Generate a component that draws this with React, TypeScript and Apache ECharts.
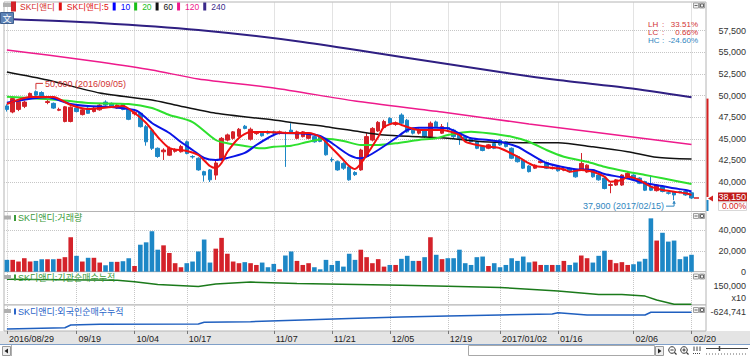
import React, { useEffect, useRef } from 'react';
import * as echarts from 'echarts';

const FONT = "'Liberation Sans', Arial, 'Noto Sans CJK KR', sans-serif";

const dates: string[] = [
  '2016/08/29', '2016/08/30', '2016/08/31',
  '2016/09/01', '2016/09/02', '2016/09/05', '2016/09/06', '2016/09/07', '2016/09/08', '2016/09/09', '2016/09/12', '2016/09/13',
  '2016/09/19', '2016/09/20', '2016/09/21', '2016/09/22', '2016/09/23', '2016/09/26', '2016/09/27', '2016/09/28', '2016/09/29', '2016/09/30',
  '2016/10/04', '2016/10/05', '2016/10/06', '2016/10/07', '2016/10/10', '2016/10/11', '2016/10/12', '2016/10/13', '2016/10/14',
  '2016/10/17', '2016/10/18', '2016/10/19', '2016/10/20', '2016/10/21', '2016/10/24', '2016/10/25', '2016/10/26', '2016/10/27', '2016/10/28', '2016/10/31',
  '2016/11/01', '2016/11/02', '2016/11/03', '2016/11/04', '2016/11/07', '2016/11/08', '2016/11/09', '2016/11/10', '2016/11/11',
  '2016/11/14', '2016/11/15', '2016/11/16', '2016/11/17', '2016/11/18', '2016/11/21', '2016/11/22', '2016/11/23', '2016/11/24', '2016/11/25',
  '2016/11/28', '2016/11/29', '2016/11/30', '2016/12/01', '2016/12/02', '2016/12/05', '2016/12/06', '2016/12/07', '2016/12/08', '2016/12/09',
  '2016/12/12', '2016/12/13', '2016/12/14', '2016/12/15', '2016/12/16', '2016/12/19', '2016/12/20', '2016/12/21', '2016/12/22', '2016/12/23',
  '2016/12/26', '2016/12/27', '2016/12/28', '2016/12/29',
  '2017/01/02', '2017/01/03', '2017/01/04', '2017/01/05', '2017/01/06', '2017/01/09', '2017/01/10', '2017/01/11', '2017/01/12', '2017/01/13',
  '2017/01/16', '2017/01/17', '2017/01/18', '2017/01/19', '2017/01/20', '2017/01/23', '2017/01/24', '2017/01/25', '2017/01/26', '2017/01/31',
  '2017/02/01', '2017/02/02', '2017/02/03', '2017/02/06', '2017/02/07', '2017/02/08', '2017/02/09', '2017/02/10',
  '2017/02/13', '2017/02/14', '2017/02/15', '2017/02/16', '2017/02/17', '2017/02/20',
];

const opens = [
  48800, 48100, 48400, 48750, 49700, 50450, 50350, 49200, 49100, 48300,
  47000, 47000, 48550, 47800, 48550, 48150, 48350, 49250, 49100, 48550,
  49000, 48350, 47900, 47950, 46400, 46000, 43900, 43500, 43100, 43550,
  43500, 44650, 42950, 42750, 41200, 41400, 40800, 42550, 44850, 45050,
  45300, 46450, 44950, 45600, 45650, 45800, 45800, 45650, 45700, 46000,
  45050, 45250, 45050, 45250, 45200, 44850, 42600, 42350, 42150, 41750,
  41100, 41400, 42950, 44850, 45900, 46300, 47350, 46650, 47750, 47150,
  46000, 45650, 46000, 45250, 46950, 45650, 46300, 46000, 45450, 45250,
  45050, 44650, 44100, 43900, 44450, 44850, 44650, 43900, 42950, 42550,
  41850, 41600, 42250, 42250, 41550, 41750, 41350, 41600, 41400, 41400,
  41150, 41400, 40800, 40450, 39600, 39650, 39650, 40600, 40800, 40450,
  40050, 39450, 39000, 39450, 38750, 38850, 38900, 38900, 38750,
];
const closes = [
  48400, 49650, 49300, 49250, 50250, 50050, 49800, 49300, 48550, 48400,
  48700, 48650, 48150, 48350, 47950, 48550, 48900, 48900, 48700, 48900,
  48400, 47250, 48050, 46400, 44650, 43900, 42950, 43700, 43900, 43700,
  44100, 43300, 42900, 41400, 40800, 40250, 42200, 45050, 45450, 45800,
  46100, 46200, 46100, 45650, 45350, 45650, 45650, 45800, 45650, 45650,
  45800, 45800, 45650, 44650, 44700, 43150, 42550, 41400, 41600, 40250,
  40850, 43700, 45250, 46200, 46900, 47000, 46800, 46800, 46800, 45800,
  45650, 46000, 45250, 46800, 46400, 46400, 46200, 45250, 45050, 44850,
  44650, 43900, 43650, 44300, 43900, 44300, 44100, 42750, 42350, 41600,
  41200, 41950, 42400, 41600, 41650, 41300, 41450, 41200, 40600, 42150,
  41950, 40600, 40250, 39250, 39700, 40250, 40800, 41000, 40250, 39850,
  39050, 39050, 39650, 38900, 38700, 38500, 38850, 38500, 38150,
];
const lows = [
  48150, 47950, 48200, 48550, 49600, 49900, 49650, 49000, 48450, 48200,
  46900, 46900, 48050, 47700, 47900, 48050, 48250, 48800, 48600, 48450,
  48300, 47150, 47700, 46300, 44200, 43700, 42800, 42550, 43000, 43400,
  43400, 43200, 42700, 41300, 40050, 40000, 40250, 42450, 44700, 44900,
  45200, 46100, 44800, 45450, 45250, 45500, 45300, 45500, 41750, 45550,
  44950, 45150, 44950, 44550, 44600, 43050, 42300, 41300, 41400, 40150,
  40700, 41300, 42850, 44700, 45800, 46200, 46700, 46500, 46700, 45700,
  45500, 45500, 45100, 45100, 46300, 45550, 46000, 45100, 44300, 44750,
  44550, 43800, 43550, 43800, 43800, 44200, 44000, 42650, 42250, 41500,
  41100, 41500, 42150, 41500, 41450, 41200, 41250, 41100, 40500, 41300,
  41050, 40500, 40150, 39150, 38700, 39550, 39550, 40500, 40150, 39750,
  38950, 38950, 38900, 38800, 38550, 37900, 38700, 38400, 38050,
];
const highs = [
  49000, 49850, 49500, 49400, 50350, 50600, 50500, 49500, 49200, 48600,
  48800, 48750, 48800, 48450, 48650, 48700, 49000, 49450, 49200, 49000,
  49100, 48450, 48200, 48000, 46600, 46100, 44000, 43900, 44100, 43900,
  44300, 44800, 43100, 42850, 41300, 41500, 42550, 45200, 45600, 45900,
  46250, 46600, 46300, 45900, 45800, 45950, 45950, 45950, 45850, 46800,
  45950, 45900, 45750, 45350, 45350, 44950, 42850, 42500, 42300, 41900,
  41250, 43850, 45650, 46350, 47050, 47200, 47500, 47000, 47950, 47300,
  46150, 46200, 46150, 47000, 47100, 46700, 46900, 46150, 45550, 45350,
  45200, 44750, 44200, 44400, 44550, 44950, 44750, 44000, 43050, 42650,
  41950, 42050, 42550, 42350, 41800, 41850, 41600, 41700, 41500, 43350,
  42050, 41500, 40900, 40550, 39900, 40350, 40900, 41150, 40900, 40550,
  40150, 40800, 39750, 39550, 38900, 38950, 39000, 39000, 38850,
];
const volumes = [
  11400, 11400, 9800, 13000, 9800, 10400, 12000, 12000, 12000, 12400,
  14000, 33200, 15300, 9800, 13400, 13400, 8800, 6200, 9500, 9500,
  10100, 13000, 5500, 26000, 28300, 39000, 21200, 25400, 18000, 8200,
  4300, 8200, 9800, 19500, 31000, 8800, 22200, 32600, 17300, 9800,
  8200, 9200, 8200, 6500, 8800, 4300, 7500, 2300, 15600, 19500,
  10400, 6500, 8200, 4300, 2300, 11400, 6500, 10400, 4900, 17300,
  11400, 21200, 14000, 8200, 12100, 4900, 6500, 6500, 12400, 15300,
  10400, 10400, 14000, 33200, 16300, 12100, 13000, 13000, 21200, 8200,
  6500, 14000, 14600, 5500, 8200, 4300, 6500, 13000, 10400, 14600,
  9000, 9800, 6500, 6500, 6500, 6500, 10400, 6500, 8800, 15600,
  13000, 8800, 15300, 20200, 11400, 8200, 9200, 6500, 7200, 9800,
  12400, 51400, 30000, 37500, 29000, 30000, 12100, 14600, 16300,
];

// moving averages: [day index, value]
const ma5 = [
  [0, 49030], [4, 49830], [8, 49830], [11, 48910], [14, 48450], [18, 48680], [20, 48790], [22, 47980], [24, 46830],
  [26, 45210], [28, 43930], [31, 43590], [33, 43120], [35, 41850], [36, 41620], [37, 42200], [38, 43470], [40, 45090],
  [42, 45790], [45, 45790], [49, 45670], [52, 45670], [54, 45210], [56, 43930], [58, 42550], [59, 41850], [60, 41500],
  [62, 43120], [64, 45210], [65, 46360], [67, 46830], [68, 46600], [71, 46020], [73, 46020], [75, 46020], [78, 45440],
  [79, 44660], [81, 44280], [83, 44080], [85, 43900], [88, 42930], [90, 42160], [91, 41850], [93, 41700], [96, 41470],
  [97, 41190], [99, 41390], [101, 41190], [103, 40610], [104, 40040], [106, 40230], [107, 40610], [109, 40230],
  [111, 39460], [113, 39070], [115, 38880], [117, 38690], [118, 38500],
];
const ma10 = [
  [0, 49180], [7, 49800], [11, 49030], [14, 48790], [18, 48680], [22, 48330], [23, 47980], [25, 46830], [28, 45670],
  [30, 44630], [32, 43700], [34, 42780], [36, 42550], [38, 42780], [41, 43360], [43, 44280], [45, 45090], [47, 45670],
  [51, 45610], [54, 45320], [56, 44510], [59, 43120], [61, 42740], [62, 42930], [64, 43700], [67, 45060], [69, 46020],
  [71, 46280], [74, 46280], [76, 46210], [78, 45640], [80, 45060], [83, 44860], [85, 44660], [88, 44080], [90, 43320],
  [93, 42200], [96, 41700], [98, 41470], [101, 41390], [103, 40930], [106, 40540], [108, 40230], [110, 39850],
  [113, 39540], [115, 39270], [117, 39070], [118, 38900],
];
const ma20 = [
  [0, 49870], [9, 49490], [14, 49140], [21, 49030], [25, 48560], [28, 47750], [32, 46940], [36, 44860], [38, 44480],
  [41, 44170], [44, 43900], [46, 44080], [49, 44200], [52, 44660], [55, 45000], [58, 44750], [61, 44280], [64, 44280],
  [67, 44480], [71, 44860], [74, 45060], [76, 45440], [80, 45820], [83, 45640], [87, 45240], [90, 44660], [93, 43700],
  [96, 42930], [100, 42350], [103, 41770], [107, 41190], [110, 40810], [113, 40430], [116, 40040], [118, 39780],
];
const ma60 = [
  [0, 52730], [7, 51800], [16, 50300], [25, 49490], [29, 48910], [36, 47950], [46, 47170], [50, 46790], [55, 46400],
  [60, 45900], [65, 45440], [71, 45240], [76, 45060], [82, 44660], [89, 44550], [95, 44550], [101, 44080], [107, 43510],
  [112, 42860], [118, 42650],
];
const ma120 = [
  [0, 55270], [7, 54690], [16, 53880], [25, 52960], [33, 51920], [46, 50880], [60, 49370], [75, 48100], [90, 46710],
  [101, 45790], [118, 44330],
];
const ma240 = [
  [0, 58860], [16, 58400], [33, 57590], [51, 56200], [68, 54460], [85, 52730], [95, 51800], [107, 50880], [118, 49800],
];

// 기관순매수누적 (display units x10) and 외국인순매수누적
const instCum = [
  [0, 172900], [19, 169000], [22, 164000], [26, 153500], [33, 147000], [36, 156000], [42, 162500], [50, 157400],
  [68, 151600], [76, 147700], [85, 143100], [95, 130300], [102, 117500], [106, 117500], [110, 112100], [112, 98200],
  [115, 82700], [118, 82700],
];
const foreignCum = [
  [0, -792000], [10, -779000], [11, -752000], [16, -745000], [33, -742000], [34, -725000], [42, -719000],
  [51, -702000], [59, -687000], [68, -672000], [76, -662000], [85, -652000], [94, -642000], [95, -629000],
  [100, -652000], [110, -652000], [111, -624741], [118, -624741],
];

const tickDates = ['2016/08/29', '2016/09/19', '2016/10/04', '2016/10/17', '2016/11/07', '2016/11/21', '2016/12/05',
  '2016/12/19', '2017/01/02', '2017/01/16', '2017/02/06', '2017/02/20'];
const tickLabels = ['2016/08/29', '09/19', '10/04', '10/17', '11/07', '11/21', '12/05', '12/19', '2017/01/02', '01/16',
  '02/06', '02/20'];
const priceTicks = [40000, 42500, 45000, 47500, 50000, 52500, 55000, 57500];
const volumeTicks = [0, 20000, 40000];
const volumeGrid = [20000, 40000];
const instTicks = [150000];
const foreignTicks = [-624741];

const highDate = '2016/09/05';
const highValue = 50600;
const lowDate = '2017/02/15';
const lowValue = 37900;
const rangeTop = 49650;
const dayChange = '0.00%';

const UP = '#d4222a';
const DOWN = '#1d87c6';
const GRIDLINE = '#c6c6c6';

const fmt = (v: number) => Math.round(v).toLocaleString('en-US');
const pct = (v: number) => (v * 100).toFixed(2) + '%';

const categories = [...dates, '', ' '];
const tickSet = new Set(tickDates);
const labelOf: Record<string, string> = {};
tickDates.forEach((d, i) => { labelOf[d] = tickLabels[i]; });
const isTick = (i: number) => tickSet.has(categories[i]);

function gridLines(extra: any[] = []) {
  return {
    silent: true,
    symbol: ['none', 'none'],
    z: 1,
    animation: false,
    label: { show: false },
    emphasis: { disabled: true },
    lineStyle: { color: GRIDLINE, type: 'dotted', width: 1 },
    data: [...tickDates.map((d) => ({ xAxis: d })), ...extra],
  };
}

function maLine(name: string, data: number[][], color: string, width: number) {
  return {
    name, type: 'line', xAxisIndex: 0, yAxisIndex: 0, data, color,
    showSymbol: false, symbol: 'none', smooth: 0.25, silent: true, z: 3,
    lineStyle: { color, width },
  };
}

function buildOption() {
  const gridBox = { left: 4, right: 44, show: true, borderColor: '#b4b4b4', borderWidth: 1, backgroundColor: '#ffffff' };
  const yLabel = (vals: number[]) => ({
    customValues: vals, formatter: (v: number) => fmt(v), align: 'right', margin: 40,
    fontSize: 9, color: '#333333', fontFamily: FONT,
  });
  const yBase = { type: 'value', position: 'right', axisLine: { show: false }, axisTick: { show: false }, splitLine: { show: false } };
  const xAxes = [0, 1, 2, 3].map((k) => ({
    type: 'category', gridIndex: k, data: categories, boundaryGap: true,
    axisLine: { show: false }, splitLine: { show: false },
    axisTick: k === 3
      ? { show: true, interval: isTick, alignWithLabel: true, length: 3, lineStyle: { color: '#777777' } }
      : { show: false },
    axisLabel: k === 3
      ? {
        show: true, interval: isTick, formatter: (v: string) => labelOf[v] || '', align: 'left',
        padding: [0, 0, 0, 2], margin: 3, fontSize: 9, color: '#222222', fontFamily: FONT,
      }
      : { show: false },
  }));
  const legendItems = [
    ['SK디앤디', '#d32a2a'], ['SK디앤디:5', '#e01010'], ['10', '#0000ff'], ['20', '#19c019'],
    ['60', '#111111'], ['120', '#ee1a8c'], ['240', '#3a2a8a'],
  ];
  return {
    animation: false,
    backgroundColor: '#ffffff',
    legend: {
      left: 11, top: 1.5, padding: 0, itemGap: 4, itemWidth: 3, itemHeight: 8, icon: 'rect',
      selectedMode: false, textStyle: { fontSize: 8.5, fontFamily: FONT },
      data: legendItems.map(([n, c]) => ({ name: n, textStyle: { color: c }, itemStyle: { color: c } })),
    },
    grid: [
      { ...gridBox, top: 2, height: 209.5 },
      { ...gridBox, top: 211.5, height: 60.2 },
      { ...gridBox, top: 271.7, height: 33.3 },
      { ...gridBox, top: 305, height: 26 },
    ],
    xAxis: xAxes,
    yAxis: [
      { ...yBase, gridIndex: 0, min: 36587, max: 60826, axisLabel: yLabel(priceTicks) },
      { ...yBase, gridIndex: 1, min: 0, max: 58000, axisLabel: yLabel(volumeTicks) },
      { ...yBase, gridIndex: 2, min: 80000, max: 200000, axisLabel: yLabel(instTicks) },
      { ...yBase, gridIndex: 3, min: -811741, max: -551741, axisLabel: yLabel(foreignTicks) },
    ],
    series: [
      {
        name: 'SK디앤디', type: 'candlestick', xAxisIndex: 0, yAxisIndex: 0, barWidth: 4, silent: true,
        data: dates.map((_, i) => [opens[i], closes[i], lows[i], highs[i]]),
        itemStyle: { color: UP, color0: DOWN, borderColor: UP, borderColor0: DOWN, borderWidth: 1 },
        markLine: gridLines(priceTicks.map((v) => ({ yAxis: v }))),
      },
      maLine('240', ma240, '#2f1f82', 2),
      maLine('120', ma120, '#ee1a8c', 1.5),
      maLine('60', ma60, '#111111', 1.5),
      maLine('20', ma20, '#2ee02e', 2),
      maLine('10', ma10, '#0a14e6', 2),
      maLine('SK디앤디:5', ma5, '#f01010', 2),
      {
        name: '거래량', type: 'bar', xAxisIndex: 1, yAxisIndex: 1, barWidth: 4.6, silent: true,
        data: volumes.map((v, i) => ({ value: v, itemStyle: { color: closes[i] >= opens[i] ? UP : DOWN } })),
        markLine: gridLines(volumeGrid.map((v) => ({ yAxis: v }))),
      },
      {
        name: '기관순매수누적', type: 'line', xAxisIndex: 2, yAxisIndex: 2, data: instCum, showSymbol: false,
        symbol: 'none', silent: true, lineStyle: { color: '#1b7a1b', width: 1.5 }, markLine: gridLines(),
      },
      {
        name: '외국인순매수누적', type: 'line', xAxisIndex: 3, yAxisIndex: 3, data: foreignCum, showSymbol: false,
        symbol: 'none', silent: true, lineStyle: { color: '#1f5fbf', width: 1.5 }, markLine: gridLines(),
      },
    ],
  };
}

function txt(x: number, y: number, text: string, fill: string, size = 9, align = 'left', extra: any = {}) {
  return {
    type: 'text', x, y, silent: true, z: 20,
    style: { text, fill, font: `${size}px ${FONT}`, align, verticalAlign: 'middle', ...extra },
  };
}

function miniIcons(y: number) {
  return [
    { type: 'rect', silent: true, z: 20, shape: { x: 693.5, y, width: 5, height: 5 }, style: { fill: '#f2f2f2', stroke: '#a0a0a0', lineWidth: 1 } },
    { type: 'line', silent: true, z: 21, shape: { x1: 694.5, y1: y + 2.5, x2: 697.5, y2: y + 2.5 }, style: { stroke: '#666', lineWidth: 1 } },
    { type: 'rect', silent: true, z: 20, shape: { x: 699.5, y, width: 5, height: 5 }, style: { fill: '#f2f2f2', stroke: '#a0a0a0', lineWidth: 1 } },
    { type: 'rect', silent: true, z: 21, shape: { x: 700.5, y: y + 1, width: 3, height: 3 }, style: { fill: 'none', stroke: '#666', lineWidth: 1 } },
  ];
}

function panelTitle(y: number, text: string, color: string) {
  return [
    { type: 'rect', silent: true, z: 20, shape: { x: 4, y: y - 2.5, width: 7, height: 4 }, style: { fill: '#b0b0b0' } },
    { type: 'rect', silent: true, z: 20, shape: { x: 14, y: y - 3, width: 2, height: 6 }, style: { fill: color } },
    txt(18, y, text, color, 9),
  ];
}

function buildGraphics(chart: any) {
  const px = (i: number, v: number) => chart.convertToPixel({ xAxisIndex: 0, yAxisIndex: 0 }, [i, v]) as number[];
  const lastI = dates.length - 1;
  const lastClose = closes[lastI];
  const [hx, hy] = px(dates.indexOf(highDate), highValue);
  const [lx, ly] = px(dates.indexOf(lowDate), lowValue);
  const [, cy] = px(lastI, lastClose);
  const [, ty] = px(lastI, rangeTop);
  const RED_T = '#d23434';
  const BLUE_T = '#2f86c0';
  const g: any[] = [];

  // bottom date band and scroll bar
  g.push({ type: 'rect', silent: true, z: -1, shape: { x: 0, y: 331, width: 750, height: 13 }, style: { fill: '#e4e4e4' } });
  g.push({ type: 'rect', silent: true, z: 20, shape: { x: 0, y: 344.5, width: 750, height: 12 }, style: { fill: '#ffffff' } });
  g.push({ type: 'line', silent: true, z: 21, shape: { x1: 0, y1: 344.5, x2: 750, y2: 344.5 }, style: { stroke: '#7f9fc8', lineWidth: 1 } });
  g.push({ type: 'rect', silent: true, z: 21, shape: { x: 2.5, y: 346.5, width: 8, height: 9 }, style: { fill: '#eeeeee', stroke: '#9a9a9a' } });
  g.push({ type: 'polygon', silent: true, z: 22, shape: { points: [[4.5, 351], [8, 348.5], [8, 353.5]] }, style: { fill: '#222' } });
  g.push({ type: 'line', silent: true, z: 21, shape: { x1: 11.5, y1: 345, x2: 11.5, y2: 356 }, style: { stroke: '#b0b0b0' } });
  g.push({ type: 'rect', silent: true, z: 21, shape: { x: 468.5, y: 345.5, width: 186, height: 10 }, style: { fill: '#ffffff', stroke: '#a8a8a8' } });
  g.push({ type: 'rect', silent: true, z: 21, shape: { x: 655.5, y: 346.5, width: 8, height: 9 }, style: { fill: '#eeeeee', stroke: '#9a9a9a' } });
  g.push({ type: 'polygon', silent: true, z: 22, shape: { points: [[661.5, 351], [658, 348.5], [658, 353.5]] }, style: { fill: '#222' } });
  [672, 684].forEach((cx, k) => {
    g.push({ type: 'circle', silent: true, z: 22, shape: { cx, cy: 350, r: 3.3 }, style: { fill: 'none', stroke: '#333', lineWidth: 1 } });
    g.push({ type: 'line', silent: true, z: 22, shape: { x1: cx + 2.4, y1: 352.4, x2: cx + 4.5, y2: 354.5 }, style: { stroke: '#333', lineWidth: 1.2 } });
    g.push({ type: 'line', silent: true, z: 22, shape: { x1: cx - 1.6, y1: 350, x2: cx + 1.6, y2: 350 }, style: { stroke: '#333', lineWidth: 1 } });
    if (k === 1) g.push({ type: 'line', silent: true, z: 22, shape: { x1: cx, y1: 348.4, x2: cx, y2: 351.6 }, style: { stroke: '#333', lineWidth: 1 } });
  });
  [694, 697, 700].forEach((x) => g.push({ type: 'line', silent: true, z: 22, shape: { x1: x, y1: 346.5, x2: x, y2: 351 }, style: { stroke: '#444', lineWidth: 1 } }));
  g.push({ type: 'line', silent: true, z: 22, shape: { x1: 693, y1: 353.5, x2: 701, y2: 353.5 }, style: { stroke: '#444', lineWidth: 1, lineDash: [1, 1] } });
  g.push({ type: 'line', silent: true, z: 22, shape: { x1: 706, y1: 348.5, x2: 748, y2: 348.5 }, style: { stroke: '#444', lineWidth: 1 } });
  g.push({ type: 'line', silent: true, z: 22, shape: { x1: 719.5, y1: 346, x2: 719.5, y2: 351 }, style: { stroke: '#444', lineWidth: 1.5 } });
  g.push({ type: 'line', silent: true, z: 22, shape: { x1: 706, y1: 354, x2: 748, y2: 354 }, style: { stroke: '#666', lineWidth: 1, lineDash: [1, 2] } });

  // top-left icons
  g.push({ type: 'rect', silent: true, z: 20, shape: { x: 3, y: 3, width: 8, height: 4 }, style: { fill: '#b0b0b0' } });
  g.push({ type: 'rect', silent: true, z: 20, shape: { x: 0.5, y: 12.5, width: 13, height: 11 }, style: { fill: '#5d83b6', stroke: '#3f5f8f' } });
  g.push(txt(7, 18.5, '文', '#ffffff', 9, 'center', { font: "9px 'Noto Sans CJK SC', sans-serif" }));

  // mini window icons
  [3, 213.5, 274, 307.5].forEach((y) => g.push(...miniIcons(y)));

  // panel titles
  g.push(...panelTitle(218, 'SK디앤디:거래량', '#3a9a3a'));
  g.push(...panelTitle(277.5, 'SK디앤디:기관순매수누적', '#3a9a3a'));
  g.push(...panelTitle(311.5, 'SK디앤디:외국인순매수누적', '#2a64c8'));
  g.push(txt(746, 298, 'x10', '#333333', 9, 'right'));

  // high / low annotations
  g.push({ type: 'polyline', silent: true, z: 20, shape: { points: [[hx, hy - 1], [hx, hy - 7], [hx + 7, hy - 7]] }, style: { stroke: RED_T, lineWidth: 1, fill: 'none' } });
  g.push(txt(hx + 9, hy - 6.5, `${fmt(highValue)} (${highDate})`, RED_T, 9));
  g.push({ type: 'polyline', silent: true, z: 20, shape: { points: [[lx, ly + 1], [lx, ly + 6], [lx - 8, ly + 6]] }, style: { stroke: BLUE_T, lineWidth: 1, fill: 'none' } });
  g.push({ type: 'polygon', silent: true, z: 20, shape: { points: [[lx, ly + 0.5], [lx - 1.8, ly + 3.5], [lx + 1.8, ly + 3.5]] }, style: { fill: BLUE_T } });
  g.push(txt(lx - 10, ly + 5.5, `${fmt(lowValue)} (${lowDate})`, BLUE_T, 9, 'right'));

  // LH / LC / HC box
  const rows: [string, number, string][] = [
    ['LH', (highValue - lowValue) / lowValue, RED_T],
    ['LC', (lastClose - lowValue) / lowValue, RED_T],
    ['HC', (lastClose - highValue) / highValue, BLUE_T],
  ];
  rows.forEach(([k, v, c], r) => {
    const y = 24 + r * 8.3;
    g.push(txt(648, y, k, c, 8, 'left', { lineHeight: 8 }));
    g.push(txt(662, y, ':', c, 8, 'left', { lineHeight: 8 }));
    g.push(txt(698, y, pct(v), c, 8, 'right', { lineHeight: 8 }));
  });

  // range bar, current price marker and labels
  g.push({ type: 'line', silent: true, z: 20, shape: { x1: 707.5, y1: ty, x2: 707.5, y2: cy - 1 }, style: { stroke: '#d42020', lineWidth: 2 } });
  g.push({ type: 'line', silent: true, z: 20, shape: { x1: 707.5, y1: cy + 2, x2: 707.5, y2: 211 }, style: { stroke: DOWN, lineWidth: 2 } });
  g.push({ type: 'polygon', silent: true, z: 21, shape: { points: [[708, cy + 0.5], [713, cy - 2.5], [713, cy + 3.5]] }, style: { fill: '#d42020' } });
  g.push({ type: 'line', silent: true, z: 21, shape: { x1: 694, y1: cy, x2: 699, y2: cy }, style: { stroke: '#d42020', lineWidth: 1.5 } });
  g.push({ type: 'rect', silent: true, z: 20, shape: { x: 718, y: cy - 5.5, width: 29, height: 9 }, style: { fill: '#c01a1a' } });
  g.push(txt(746, cy - 0.8, fmt(lastClose), '#ffffff', 9, 'right', { lineHeight: 9 }));
  g.push({ type: 'rect', silent: true, z: 20, shape: { x: 718.5, y: cy + 4, width: 28, height: 8.5 }, style: { fill: '#ffffff', stroke: '#d8d8d8' } });
  g.push(txt(746, cy + 8.3, dayChange, '#d42020', 8.5, 'right', { lineHeight: 8 }));
  return g;
}

export default function App() {
  const ref = useRef<HTMLDivElement>(null);
  useEffect(() => {
    const el = ref.current;
    if (!el) return undefined;
    const chart = echarts.init(el, null, { renderer: 'svg' });
    chart.setOption(buildOption() as any);
    chart.setOption({ graphic: buildGraphics(chart) } as any);
    return () => chart.dispose();
  }, []);
  return <div ref={ref} style={{ position: 'absolute', left: 0, top: 0, width: 750, height: 356 }} />;
}
